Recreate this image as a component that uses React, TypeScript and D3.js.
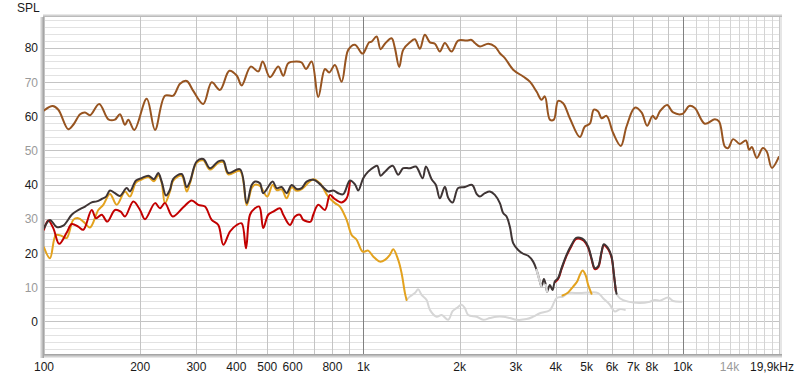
import React from "react";
import * as d3 from "d3";

type Pt = [number, number];

// Frequency (Hz), SPL (dB)
const brownCurve: Pt[] = [
  [100, 61.7], [106.5, 63.0], [110.9, 61.9], [119.1, 56.2], [123.5, 57.5], [129.7, 60.6], [134.4, 61.1],
  [139.3, 60.3], [148.9, 63.6], [159.0, 59.1], [166.8, 59.0], [172.9, 60.6], [179.3, 57.5], [183.6, 59.0],
  [191.8, 56.0], [209.7, 65.1], [222.6, 56.0], [239.2, 66.0], [253.9, 66.0], [266.6, 69.5], [279.7, 70.3],
  [293.3, 67.4], [315.2, 63.6], [334.9, 69.9], [355.6, 67.7], [380.3, 73.3], [401.1, 71.9], [415.8, 69.0],
  [443.7, 74.5], [468.6, 73.1], [483.7, 76.0], [509.8, 71.4], [541.3, 74.5], [561.2, 71.8], [581.7, 75.5],
  [618.0, 76.0], [640.6, 75.7], [660.8, 73.8], [688.5, 76.0], [722.1, 65.6], [757.8, 73.8], [781.5, 72.8],
  [814.3, 75.0], [854.7, 70.1], [896.3, 79.4], [940.6, 80.9], [987.1, 78.4], [998.6, 78.4], [1042.7, 81.6],
  [1060.9, 81.8], [1099.8, 83.3], [1131.9, 79.6], [1167.5, 81.2], [1225.3, 82.8], [1254.8, 79.9],
  [1294.2, 74.4], [1332.1, 79.4], [1398, 81.6], [1449, 82.5], [1502, 79.7], [1557, 83.8], [1615, 81.6],
  [1674, 81.2], [1735, 78.9], [1799, 81.4], [1888, 78.9], [1980, 82.1], [2103, 82.1], [2181, 82.3],
  [2233, 81.4], [2315, 80.4], [2458, 81.2], [2579, 80.4], [2674, 78.4], [2772, 77.0], [2943, 73.6],
  [3163, 71.6], [3319, 70.1], [3483, 67.2], [3611, 64.8], [3698, 65.8], [3834, 59.0], [3946, 59.0],
  [4070, 64.5], [4219, 63.8], [4428, 59.4], [4759, 53.9], [4934, 57.0], [5115, 57.8], [5264, 61.9],
  [5430, 61.4], [5565, 59.4], [5769, 60.1], [6050, 55.1], [6395, 51.3], [6663, 57.0], [7074, 62.5],
  [7425, 61.1], [7731, 57.2], [8038, 60.1], [8231, 59.2], [8472, 61.4], [8930, 63.3], [9324, 61.1],
  [9978, 60.7], [10465, 63.0], [10903, 62.4], [11718, 57.8], [12598, 59.1], [12994, 58.4], [13539, 51.1],
  [13865, 50.7], [14373, 53.3], [15083, 51.9], [15749, 52.9], [16127, 50.2], [16444, 51.0], [17046, 47.8],
  [17800, 50.7], [18322, 49.6], [18995, 44.9], [19976, 48.1],
];

const darkCurve: Pt[] = [
  [100, 27.3], [104.4, 29.7], [109.6, 27.6], [114.9, 28.0], [122.1, 31.2], [126.6, 32.3], [134.4, 33.6],
  [141.0, 34.8], [146.2, 35.1], [151.6, 35.8], [156.4, 36.5], [160.9, 38.3], [166.8, 37.5], [172.9, 36.7],
  [181.5, 39.0], [185.8, 38.0], [194.1, 41.2], [202.2, 41.9], [212.1, 42.6], [221.0, 41.6], [227.9, 43.4],
  [233.6, 40.9], [240.9, 36.8], [247.9, 38.5], [253.9, 41.7], [269.8, 43.1], [279.7, 39.3], [286.4, 40.9],
  [300.6, 46.8], [315.2, 47.5], [330.8, 44.8], [351.3, 46.8], [364.2, 47.0], [377.5, 43.4], [410.8, 44.5],
  [431.1, 34.6], [446.9, 39.9], [457.6, 40.9], [474.4, 40.4], [485.8, 37.5], [519.8, 40.9], [535.0, 39.0],
  [554.7, 39.3], [575.0, 37.5], [596.1, 39.9], [618.0, 38.7], [640.6, 39.0], [664.1, 40.9], [696.5, 41.4],
  [722.1, 40.6], [752.3, 39.0], [775.9, 38.0], [804.4, 38.3], [834.0, 37.5], [864.6, 37.2], [907.4, 41.2],
  [940.6, 40.1], [963.2, 38.3], [998.6, 41.9], [1035, 43.8], [1079, 45.1], [1105, 45.5], [1132, 42.6],
  [1168, 43.8], [1234, 45.5], [1285, 42.9], [1332, 44.8], [1398, 44.8], [1460, 45.3], [1532, 41.9],
  [1569, 45.3], [1635, 41.6], [1686, 39.9], [1735, 36.0], [1799, 39.4], [1842, 36.2], [1902, 34.8],
  [1980, 39.0], [2078, 39.3], [2190, 39.9], [2261, 37.3], [2315, 36.5], [2400, 37.5], [2488, 38.0],
  [2579, 37.0], [2674, 34.6], [2738, 31.7], [2806, 30.7], [2874, 27.7], [2943, 22.9], [3051, 20.9],
  [3163, 19.8], [3279, 19.2], [3399, 17.5], [3483, 15.1], [3567, 11.7], [3611, 10.2], [3672, 12.4],
  [3725, 10.7], [3760, 8.7], [3834, 10.7], [3909, 9.2], [3974, 11.7], [4070, 12.7], [4171, 15.6],
  [4324, 19.5], [4483, 22.4], [4624, 24.4], [4759, 24.5], [4898, 23.9], [5053, 21.9], [5178, 18.5],
  [5302, 15.6], [5430, 16.1], [5565, 20.4], [5658, 22.6], [5836, 21.4], [5981, 19.0], [6080, 14.1],
  [6169, 9.2], [6200, 8.1],
];

// frequency ranges where the dark curve is drawn faded
const darkFadedRanges: Pt[] = [[3480, 3615], [3720, 3770]];

const redCurve: Pt[] = [
  [100, 26.8], [103.1, 29.5], [106.9, 27.3], [111.6, 22.7], [117.8, 26.0], [122.1, 28.5], [128.0, 27.7],
  [132.8, 26.8], [141.0, 32.6], [145.5, 30.2], [151.6, 31.2], [157.8, 29.2], [166.8, 32.6], [173.8, 32.1],
  [179.3, 30.7], [190.4, 35.1], [199.8, 32.6], [207.1, 29.9], [222.6, 34.6], [230.7, 33.1], [239.2, 34.6],
  [252.8, 30.7], [272.9, 33.4], [290.0, 35.4], [304.1, 34.1], [319.1, 33.6], [334.9, 29.7], [351.3, 28.2],
  [364.2, 22.4], [382.2, 26.3], [401.1, 28.2], [415.8, 28.7], [428.9, 21.4], [441.4, 31.2], [457.6, 33.1],
  [472.0, 33.6], [485.8, 27.3], [503.6, 31.2], [522.1, 32.1], [548.0, 33.1], [561.2, 31.2], [588.9, 28.2],
  [610.5, 30.7], [632.8, 31.2], [648.1, 29.7], [683.6, 29.2], [696.5, 31.2], [722.1, 34.1], [757.8, 32.6],
  [785.5, 37.0], [808.5, 36.0], [854.7, 34.8], [886.0, 36.0], [907.4, 41.0],
];

const redHighCurve: Pt[] = [
  [3974, 11.5], [4070, 12.4], [4171, 15.3], [4324, 19.2], [4483, 22.1], [4624, 24.1], [4759, 24.2],
  [4898, 23.6], [5053, 21.6], [5178, 18.2], [5302, 15.3], [5430, 15.8], [5565, 20.1], [5658, 22.3],
  [5836, 21.1], [5981, 18.7], [6080, 13.8], [6169, 8.9],
];

const orangeCurve: Pt[] = [
  [100, 21.7], [104.4, 18.5], [109.0, 25.3], [113.6, 25.0], [117.8, 24.4], [123.5, 29.7], [128.0, 30.2],
  [132.8, 29.2], [139.3, 27.5], [147.9, 32.6], [153.3, 34.1], [160.9, 37.3], [168.9, 34.1], [179.3, 38.0],
  [185.8, 36.5], [194.1, 40.6], [202.2, 41.5], [212.1, 42.2], [221.0, 41.0], [227.9, 42.8], [233.6, 40.5],
  [239.2, 34.6], [247.9, 38.0], [253.9, 41.2], [269.8, 42.6], [279.7, 38.0], [286.4, 40.4], [300.6, 46.4],
  [315.2, 47.1], [330.8, 44.4], [351.3, 46.4], [364.2, 46.6], [377.5, 43.0], [410.8, 44.0], [431.1, 34.0],
  [446.9, 39.0], [457.6, 40.0], [474.4, 39.6], [500.0, 36.5], [519.8, 40.0], [535.0, 38.4], [554.7, 38.6],
  [575.0, 36.0], [596.1, 39.2], [618.0, 38.2], [640.6, 38.7], [696.5, 41.6], [731.0, 40.4], [775.9, 36.5],
  [814.3, 34.6], [844.2, 33.6], [886.0, 29.7], [918.6, 25.3], [952.2, 23.9], [994.3, 20.4], [1035, 20.7],
  [1073, 19.0], [1126, 17.5], [1168, 18.0], [1210, 19.5], [1240, 21.1], [1285, 18.0], [1317, 14.1],
  [1349, 8.3], [1365, 6.3],
];

const orangeMidCurve: Pt[] = [
  [4201, 7.6], [4374, 8.5], [4535, 10.2], [4668, 11.7], [4759, 13.6], [4853, 14.9], [4959, 13.6],
  [5053, 10.7], [5178, 8.1],
];

const grayCurveA: Pt[] = [
  [1365, 6.3], [1398, 7.3], [1449, 8.3], [1484, 9.4], [1521, 7.8], [1577, 6.3], [1615, 3.4], [1695, 1.4],
  [1757, 1.9], [1842, 0.5], [1902, 3.0], [1957, 3.9], [2029, 4.9], [2078, 3.9], [2128, 1.9], [2261, 1.4],
  [2371, 0.5], [2488, 1.0], [2611, 1.4], [2738, 1.4], [2874, 1.0], [3016, 0.5], [3241, 0.7], [3400, 1.4],
  [3567, 2.4], [3834, 3.3], [4023, 6.8], [4219, 7.3], [4374, 8.3], [4759, 8.3], [5115, 8.5], [5430, 8.3],
  [5629, 6.8], [5908, 4.9], [6124, 2.9], [6349, 3.6], [6582, 3.4],
];

const grayCurveB: Pt[] = [
  [6200, 8.1], [6349, 6.8], [6741, 5.8], [7335, 5.4], [7883, 5.8], [8172, 6.3], [8472, 6.1], [8994, 7.0],
  [9324, 6.0], [9906, 5.8],
];

const yTicks = [0, 10, 20, 30, 40, 50, 60, 70, 80];
const xTickLabels: [number, string][] = [
  [100, "100"], [200, "200"], [300, "300"], [400, "400"], [500, "500"], [600, "600"], [800, "800"],
  [1000, "1k"], [2000, "2k"], [3000, "3k"], [4000, "4k"], [5000, "5k"], [6000, "6k"], [7000, "7k"],
  [8000, "8k"], [10000, "10k"], [14000, "14k"],
];
const lastLabel = "19,9kHz";
const yTitle = "SPL";

const W = 800;
const H = 379;
const L = 44, R = 779, T = 17, B = 354;

export default function App() {
  const x = d3.scaleLog().domain([100, 20000]).range([L, R]);
  const y = d3.scaleLinear().domain([-9.5, 89]).range([B, T]);
  const line = d3
    .line<Pt>()
    .x((d) => x(d[0]))
    .y((d) => y(d[1]))
    .curve(d3.curveCatmullRom.alpha(0.5));

  const minorH = d3.range(-8, 89, 2);
  const vLines: number[] = [];
  for (let dec = 100; dec < 10000; dec *= 10) {
    for (let m = 1; m <= 9; m++) vLines.push(dec * m);
  }
  const fineV = d3.range(11000, 20000, 1000);

  const faded = darkFadedRanges.map(([a, b]) => {
    const idx = darkCurve.map((p, i) => (p[0] >= a && p[0] <= b ? i : -1)).filter((i) => i >= 0);
    return darkCurve.slice(idx[0], idx[idx.length - 1] + 1);
  });

  const font = "'Liberation Sans', Arial, sans-serif";

  return (
    <svg
      width={W}
      height={H}
      style={{ position: "absolute", left: 0, top: 0, display: "block", background: "#fff" }}
      fontFamily={font}
    >
      <defs>
        <clipPath id="plot">
          <rect x={L} y={T} width={R - L} height={B - T} />
        </clipPath>
        <linearGradient id="gl" x1="0" x2="1" y1="0" y2="0">
          <stop offset="0" stopColor="#f2f2f2" />
          <stop offset="1" stopColor="#9a9a9a" />
        </linearGradient>
        <linearGradient id="gb" x1="0" x2="0" y1="0" y2="1">
          <stop offset="0" stopColor="#9a9a9a" />
          <stop offset="1" stopColor="#f2f2f2" />
        </linearGradient>
        <linearGradient id="gt" x1="0" x2="0" y1="0" y2="1">
          <stop offset="0" stopColor="#f2f2f2" />
          <stop offset="1" stopColor="#b0b0b0" />
        </linearGradient>
      </defs>
      <rect x={L} y={T} width={R - L} height={B - T} fill="#fff" />
      {minorH.map((v) => (
        <line
          key={"h" + v}
          x1={L}
          x2={R}
          y1={Math.round(y(v)) + 0.5}
          y2={Math.round(y(v)) + 0.5}
          stroke={v % 10 === 0 ? "#c4c4c4" : "#e2e2e2"}
          strokeWidth={1}
        />
      ))}
      {vLines.map((f) => (
        <line
          key={"v" + f}
          x1={Math.round(x(f)) + 0.5}
          x2={Math.round(x(f)) + 0.5}
          y1={T}
          y2={B}
          stroke={f === 1000 ? "#808080" : "#c4c4c4"}
          strokeWidth={1}
        />
      ))}
      <line x1={Math.round(x(10000)) + 0.5} x2={Math.round(x(10000)) + 0.5} y1={T} y2={B} stroke="#808080" />
      {fineV.map((f) => (
        <line
          key={"fv" + f}
          x1={Math.round(x(f)) + 0.5}
          x2={Math.round(x(f)) + 0.5}
          y1={T}
          y2={B}
          stroke="#d4d4d4"
        />
      ))}
      <g clipPath="url(#plot)" fill="none" strokeLinejoin="round" strokeLinecap="round">
        <path d={line(grayCurveB) || ""} stroke="#d6d6d6" strokeWidth={2} />
        <path d={line(grayCurveA) || ""} stroke="#d6d6d6" strokeWidth={2} />
        <path d={line(orangeCurve) || ""} stroke="#e3a21e" strokeWidth={2} />
        <path d={line(orangeMidCurve) || ""} stroke="#e3a21e" strokeWidth={2} />
        <path d={line(redCurve) || ""} stroke="#c20000" strokeWidth={2} />
        <path d={line(redHighCurve) || ""} stroke="#c20000" strokeWidth={2} />
        <path d={line(darkCurve) || ""} stroke="#3f3535" strokeWidth={2} />
        {faded.map((seg, i) => (
          <path key={"fd" + i} d={line(seg) || ""} stroke="#d6d6d6" strokeWidth={2.2} />
        ))}
        <path d={line(brownCurve) || ""} stroke="#975420" strokeWidth={2} />
      </g>
      <rect x={L - 4} y={T} width={4} height={B - T + 4} fill="url(#gl)" />
      <rect x={L} y={B} width={R - L + 3} height={4} fill="url(#gb)" />
      <rect x={L - 1} y={T - 3} width={R - L + 4} height={3} fill="url(#gt)" />
      <rect x={R} y={T} width={3} height={B - T} fill="#e6e6e6" />
      <line x1={R + 0.5} x2={R + 0.5} y1={T} y2={B} stroke="#c8c8c8" />
      {yTicks.map((v) => (
        <text
          key={"yl" + v}
          x={38}
          y={y(v) + 4.5}
          textAnchor="end"
          fontSize={12}
          fill={(v / 10) % 2 === 0 ? "#1a1a1a" : "#9a9a9a"}
        >
          {v}
        </text>
      ))}
      <text x={17} y={12} fontSize={12} fill="#1a1a1a">
        {yTitle}
      </text>
      {xTickLabels.map(([f, s]) => (
        <text
          key={"xl" + f}
          x={x(f)}
          y={371}
          textAnchor="middle"
          fontSize={12}
          fill={f === 14000 ? "#9a9a9a" : "#1a1a1a"}
        >
          {s}
        </text>
      ))}
      <text x={794} y={371} textAnchor="end" fontSize={12} fill="#1a1a1a">
        {lastLabel}
      </text>
    </svg>
  );
}
